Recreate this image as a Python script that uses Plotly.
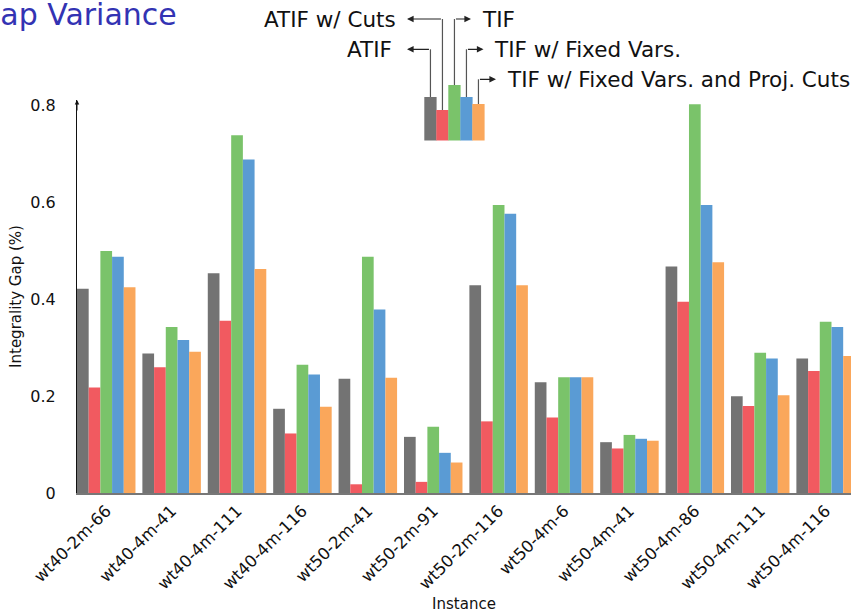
import plotly.graph_objects as go

# ---------------- data ----------------
instances = ["wt40-2m-66", "wt40-4m-41", "wt40-4m-111", "wt40-4m-116",
             "wt50-2m-41", "wt50-2m-91", "wt50-2m-116", "wt50-4m-6",
             "wt50-4m-41", "wt50-4m-86", "wt50-4m-111", "wt50-4m-116"]
atif = [0.422, 0.288, 0.454, 0.174, 0.236, 0.116, 0.429, 0.229, 0.105, 0.468, 0.200, 0.278]
atif_cuts = [0.218, 0.260, 0.356, 0.123, 0.018, 0.023, 0.148, 0.156, 0.092, 0.395, 0.180, 0.252]
tif = [0.500, 0.343, 0.739, 0.265, 0.488, 0.137, 0.595, 0.239, 0.120, 0.803, 0.290, 0.354]
tif_fixed = [0.488, 0.316, 0.689, 0.245, 0.379, 0.083, 0.577, 0.239, 0.112, 0.595, 0.278, 0.343]
tif_fixed_proj = [0.425, 0.292, 0.463, 0.178, 0.238, 0.063, 0.429, 0.239, 0.108, 0.477, 0.202, 0.283]

series_names = ["ATIF", "ATIF w/ Cuts", "TIF", "TIF w/ Fixed Vars.",
                "TIF w/ Fixed Vars. and Proj. Cuts"]
series_values = [atif, atif_cuts, tif, tif_fixed, tif_fixed_proj]
y_tick_vals = [0, 0.2, 0.4, 0.6, 0.8]
y_tick_text = ["0", "0.2", "0.4", "0.6", "0.8"]

# ---------------- styles ----------------
colors = ["#737373", "#f15a60", "#7ac36a", "#5a9bd4", "#faa75b"]
FONT = "DejaVu Sans"
W, H = 851, 613
ML, MR, MT, MB = 77, 0, 100, 120
PW, PH = W - ML - MR, H - MT - MB


def px(xp):
    return (xp - ML) / PW


def py(yp):
    return (H - MB - yp) / PH


fig = go.Figure()
for name, vals, col in zip(series_names, series_values, colors):
    fig.add_trace(go.Bar(x=instances, y=vals, name=name,
                         marker=dict(color=col, line=dict(width=0))))

# legend key (custom, drawn like the original)
key_left = [424.3, 436.3, 448.3, 460.3, 472.3]
key_top = [97, 110, 85, 97, 104]
key_w = 12.3
key_bottom = 140.5
lead_y = [49.3, 19, 19, 49.3, 79.3]
lead_dir = [-1, -1, 1, 1, 1]
arrow_tip = [407, 407, 471, 483.5, 496]
text_x = [394, 398, 480, 492, 505]

shapes = []
annotations = []
for i in range(5):
    shapes.append(dict(type="rect", xref="paper", yref="paper",
                       x0=px(key_left[i]), x1=px(key_left[i] + key_w),
                       y0=py(key_bottom), y1=py(key_top[i]),
                       fillcolor=colors[i], line=dict(width=0), layer="above"))
    cx = key_left[i] + key_w / 2
    shapes.append(dict(type="line", xref="paper", yref="paper",
                       x0=px(cx), x1=px(cx), y0=py(key_top[i]), y1=py(lead_y[i]),
                       line=dict(color="#555555", width=1.2)))
    annotations.append(dict(xref="paper", yref="paper", x=px(arrow_tip[i]), y=py(lead_y[i]),
                            ax=cx - arrow_tip[i], ay=0, text="", showarrow=True,
                            arrowhead=2, arrowsize=1.1, arrowwidth=1.2, arrowcolor="#222222"))
    annotations.append(dict(xref="paper", yref="paper", x=px(text_x[i]), y=py(lead_y[i]),
                            text=series_names[i], showarrow=False,
                            xanchor="right" if lead_dir[i] < 0 else "left", yanchor="middle",
                            font=dict(family=FONT, size=21.5, color="#111111")))

# y axis arrow head
annotations.append(dict(xref="paper", yref="paper", x=0, y=1.0, ax=0, ay=12, text="",
                        showarrow=True, arrowhead=2, arrowsize=0.9, arrowwidth=1,
                        arrowcolor="#111111"))
# slide title (partially cut at left edge as in the reference)
annotations.append(dict(xref="paper", yref="paper", x=px(179), y=py(15),
                        text="Gap Variance", showarrow=False, xanchor="right", yanchor="middle",
                        font=dict(family=FONT, size=30, color="#3333b3")))

fig.update_layout(
    width=W, height=H,
    margin=dict(l=ML, r=MR, t=MT, b=MB, pad=0, autoexpand=False),
    paper_bgcolor="white", plot_bgcolor="white",
    barmode="group", bargap=0.1055, bargroupgap=0,
    showlegend=False,
    font=dict(family=FONT, size=16, color="#111111"),
    shapes=shapes, annotations=annotations,
)
fig.update_xaxes(
    automargin=False,
    range=[-0.447, -0.447 + PW / 65.4],
    showline=True, linecolor="#777777", linewidth=1.5,
    showgrid=False, zeroline=False, ticks="",
    tickangle=-45, tickfont=dict(family=FONT, size=16.5),
    title=dict(text="Instance", font=dict(family=FONT, size=15), standoff=20),
)
fig.update_yaxes(
    automargin=False,
    range=[0, PH / 484.0],
    tickvals=y_tick_vals, ticktext=y_tick_text,
    showline=True, linecolor="#111111", linewidth=1,
    showgrid=False, zeroline=False, ticks="", ticklabelstandoff=17,
    tickfont=dict(family=FONT, size=16),
    title=dict(text="Integrality Gap (%)", font=dict(family=FONT, size=15), standoff=5),
)

fig.write_html("out.html", config={"displayModeBar": False},
               post_script="document.body.style.margin='0';document.body.style.padding='0';")
